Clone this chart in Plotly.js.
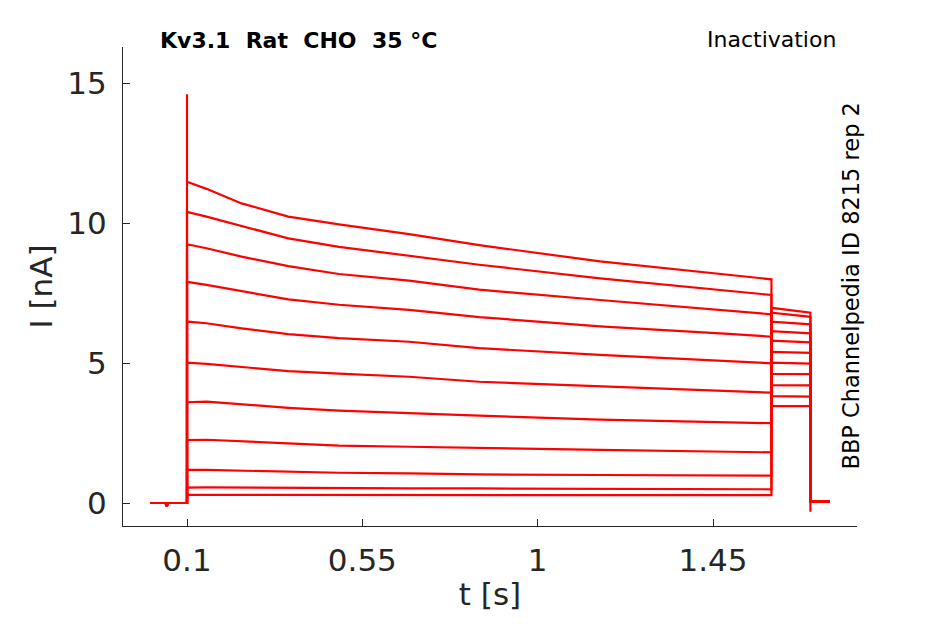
<!DOCTYPE html>
<html>
<head>
<meta charset="utf-8">
<script src="https://cdn.plot.ly/plotly-3.0.1.min.js"></script>
<style>
  html, body { margin: 0; padding: 0; background: #fff; }
  #plot { width: 945px; height: 624px; }
</style>
</head>
<body>
<div id="plot"></div>
<script>
// Kv3.1 inactivation protocol, current at a few times.

// holding period before the step (with the little dip)
var tBase = [0.005, 0.045, 0.048, 0.052, 0.1];
var iBase = [0, 0, -0.1, 0, 0];

// prepulse sample times [s]
var tPre = [0.1, 0.15, 0.24, 0.36, 0.49, 0.67, 0.85, 1.16, 1.49, 1.6];

// prepulse current [nA] for each sweep, largest first
var sweep1  = [11.47, 11.22, 10.70, 10.23, 9.95, 9.60, 9.21, 8.63, 8.13, 7.99];
var sweep2  = [10.40, 10.23, 9.89, 9.45, 9.15, 8.82, 8.51, 8.02, 7.56, 7.43];
var sweep3  = [9.24, 9.10, 8.80, 8.46, 8.18, 7.94, 7.62, 7.25, 6.85, 6.74];
var sweep4  = [7.90, 7.79, 7.57, 7.27, 7.08, 6.90, 6.64, 6.31, 6.04, 5.94];
var sweep5  = [6.48, 6.42, 6.24, 6.03, 5.89, 5.76, 5.53, 5.29, 5.05, 4.99];
var sweep6  = [5.01, 4.97, 4.87, 4.71, 4.62, 4.51, 4.33, 4.17, 3.99, 3.94];
var sweep7  = [3.60, 3.62, 3.52, 3.40, 3.30, 3.20, 3.12, 2.98, 2.87, 2.85];
var sweep8  = [2.25, 2.26, 2.21, 2.13, 2.05, 2.01, 1.96, 1.90, 1.83, 1.81];
var sweep9  = [1.18, 1.18, 1.15, 1.11, 1.08, 1.06, 1.02, 1.00, 0.97, 0.98];
var sweep10 = [0.55, 0.56, 0.55, 0.53, 0.52, 0.52, 0.52, 0.51, 0.49, 0.49];
var sweep11 = [0.29, 0.29, 0.29, 0.27, 0.27, 0.28, 0.28, 0.28, 0.27, 0.28];
var sweeps = [sweep1, sweep2, sweep3, sweep4, sweep5, sweep6, sweep7, sweep8, sweep9, sweep10, sweep11];

// test pulse (tail) start and end current, same sweep order
var tTail = [1.6, 1.7];
var tailStart = [3.46, 3.82, 4.21, 4.61, 5.01, 5.40, 5.80, 6.14, 6.48, 6.80, 6.97];
var tailEnd   = [3.46, 3.80, 4.20, 4.60, 4.98, 5.36, 5.74, 6.06, 6.38, 6.65, 6.80];

// back to holding
var tAfter = [1.7, 1.75];
var iAfter = 0.06;

// capacitive transients
var capOnPeak = 14.6;
var capOffPeak = -0.31;


var data = [];
for (var k = 0; k < sweeps.length; k++) {
	var x = tBase.slice();
	var y = iBase.slice();
	if (k == 0) { x.push(0.1); y.push(capOnPeak); }
	x = x.concat(tPre);
	y = y.concat(sweeps[k]);
	x.push(tTail[0], tTail[1]);
	y.push(tailStart[k], tailEnd[k]);
	if (k == 0) { x.push(tAfter[0]); y.push(capOffPeak); }
	x.push(tAfter[0], tAfter[1]);
	y.push(iAfter, iAfter);

	data.push({
		x: x,
		y: y,
		mode: 'lines',
		showlegend: false,
		hoverinfo: 'skip',
		line: { color: '#FF0000', width: 2.2 }
	});
}

var axisColor = '#262626';

var layout = {
	autosize: false,
	width: 945,
	height: 624,
	paper_bgcolor: '#FFFFFF',
	plot_bgcolor: '#FFFFFF',
	margin: { l: 123, r: 88, t: 47, b: 98 },
	font: { family: 'DejaVu Sans', size: 31, color: axisColor },
	xaxis: {
		range: [-0.0643, 1.8196],
		tickvals: [0.1, 0.55, 1, 1.45],
		ticktext: ['0.1', '0.55', '1', '1.45'],
		ticks: 'inside',
		ticklen: 7,
		tickcolor: axisColor,
		ticklabelstandoff: 7,
		showline: true,
		linecolor: axisColor,
		linewidth: 1,
		showgrid: false,
		zeroline: false,
		tickfont: { size: 31, color: axisColor },
		title: { text: 't [s]', font: { size: 31, color: axisColor }, standoff: 6 }
	},
	yaxis: {
		range: [-0.821, 16.286],
		tickvals: [0, 5, 10, 15],
		ticks: 'inside',
		ticklen: 7,
		tickcolor: axisColor,
		ticklabelstandoff: 9,
		showline: true,
		linecolor: axisColor,
		linewidth: 1,
		showgrid: false,
		zeroline: false,
		tickfont: { size: 31, color: axisColor },
		title: { text: 'I [nA]', font: { size: 31, color: axisColor }, standoff: 5 }
	},
	annotations: [
		{
			xref: 'paper', yref: 'paper', x: 0.0477, y: 1.0146,
			xanchor: 'left', yanchor: 'middle', showarrow: false,
			text: '<b>Kv3.1\u00A0\u00A0Rat\u00A0\u00A0CHO\u00A0\u00A035 °C</b>',
			font: { family: 'DejaVu Sans', size: 22, color: '#000000' }
		},
		{
			xref: 'paper', yref: 'paper', x: 0.974, y: 1.0167,
			xanchor: 'right', yanchor: 'middle', showarrow: false,
			text: 'Inactivation',
			font: { family: 'DejaVu Sans', size: 22, color: '#000000' }
		},
		{
			xref: 'paper', yref: 'paper', x: 0.9905, y: 0.5,
			xanchor: 'center', yanchor: 'middle', showarrow: false,
			textangle: -90,
			text: 'BBP Channelpedia ID 8215 rep 2',
			font: { family: 'DejaVu Sans', size: 22.5, color: '#000000' }
		}
	]
};

Plotly.newPlot('plot', data, layout, { displayModeBar: false, staticPlot: true });
</script>
</body>
</html>
